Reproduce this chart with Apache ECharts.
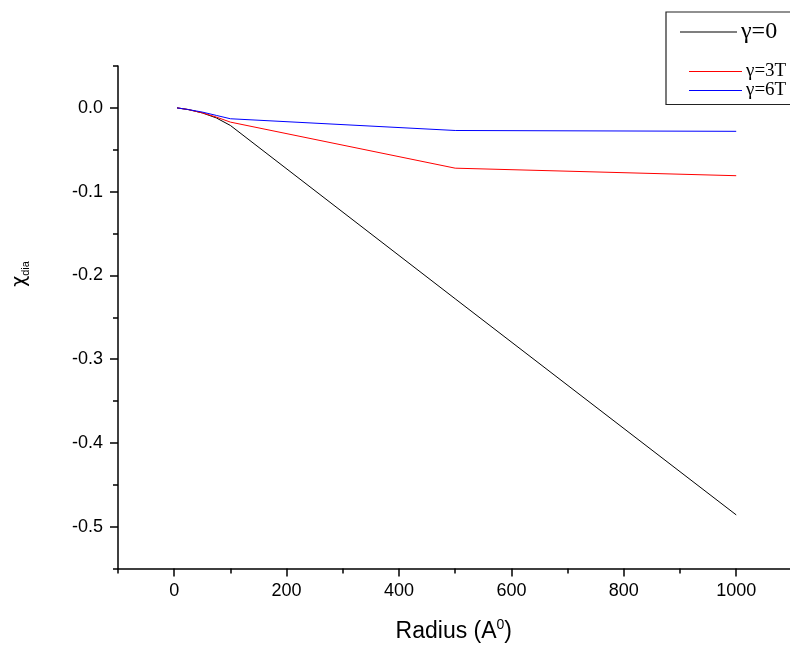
<!DOCTYPE html>
<html>
<head>
<meta charset="utf-8">
<script src="https://cdn.jsdelivr.net/npm/echarts@6/dist/echarts.min.js"></script>
<style>
html,body{margin:0;padding:0;background:#fff;}
#c{width:790px;height:648px;}
</style>
</head>
<body>
<div id="c"></div>
<script>
// Data
const radius = [5, 25, 50, 75, 100, 500, 1000];
const chiGamma0 = [0, -0.002, -0.006, -0.012, -0.021, -0.228, -0.486];
const chiGamma3T = [0, -0.002, -0.006, -0.011, -0.017, -0.072, -0.081];
const chiGamma6T = [0, -0.002, -0.005, -0.009, -0.013, -0.027, -0.028];
const seriesNames = ['γ=0', 'γ=3T', 'γ=6T'];
const xMajorTicks = [0, 200, 400, 600, 800, 1000];
const xMinorTicks = [-100, 100, 300, 500, 700, 900];
const yMajorTicks = [0, -0.1, -0.2, -0.3, -0.4, -0.5];
const yMinorTicks = [0.05, -0.05, -0.15, -0.25, -0.35, -0.45, -0.55];

const pairs = ys => radius.map((x, i) => [x, ys[i]]);
const chart = echarts.init(document.getElementById('c'), null, {renderer: 'canvas'});
const lab = {color: '#000', fontFamily: 'Liberation Sans, Arial', fontSize: 18};

const legendItem = (name, top, left, w, fs) => ({
  data: [name], orient: 'vertical', left: left, top: top, padding: 0, z: 20, zlevel: 0,
  icon: 'rect', itemWidth: w, itemHeight: 1.2, itemGap: 0,
  textStyle: {color: '#000', fontFamily: 'Liberation Serif, Times New Roman', fontSize: fs, padding: [0,0,0,-1]},
  selectedMode: false
});

chart.setOption({
  animation: false,
  backgroundColor: '#fff',
  grid: {left: 118, top: 66, width: 671.6, height: 504, containLabel: false},
  xAxis: [{
    type: 'value', min: -100, max: 1095, position: 'bottom',
    axisLine: {show: true, onZero: false, lineStyle: {color: '#000', width: 1.5}},
    axisTick: {show: true, inside: false, length: 8, lineStyle: {color: '#000', width: 1.5}, customValues: xMajorTicks},
    axisLabel: {show: true, margin: 14, customValues: xMajorTicks, formatter: v => String(v), ...lab},
    splitLine: {show: false},
    name: '{a|Radius (A}{b|0}{a|)}', nameLocation: 'middle', nameGap: 50,
    nameTextStyle: {rich: {
      a: {fontFamily: 'Liberation Sans, Arial', fontSize: 23, color: '#000', lineHeight: 26},
      b: {fontFamily: 'Liberation Sans, Arial', fontSize: 14, color: '#000', verticalAlign: 'top', lineHeight: 26}
    }}
  }, {
    type: 'value', min: -100, max: 1095, position: 'bottom', gridIndex: 0,
    axisLine: {show: false, onZero: false},
    axisTick: {show: true, inside: false, length: 5, lineStyle: {color: '#000', width: 1.5}, customValues: xMinorTicks},
    axisLabel: {show: false}, splitLine: {show: false}
  }],
  yAxis: [{
    type: 'value', min: -0.55, max: 0.05, position: 'left',
    axisLine: {show: true, onZero: false, lineStyle: {color: '#000', width: 1.5}},
    axisTick: {show: true, inside: false, length: 8, lineStyle: {color: '#000', width: 1.5}, customValues: yMajorTicks},
    axisLabel: {show: true, margin: 15, customValues: yMajorTicks, formatter: v => (Math.abs(v) < 1e-9 ? 0 : v).toFixed(1), ...lab},
    splitLine: {show: false}
  }, {
    type: 'value', min: -0.55, max: 0.05, position: 'left', gridIndex: 0,
    axisLine: {show: false, onZero: false},
    axisTick: {show: true, inside: false, length: 5, lineStyle: {color: '#000', width: 1.5}, customValues: yMinorTicks},
    axisLabel: {show: false}, splitLine: {show: false}
  }],
  legend: [
    legendItem(seriesNames[0], 20, 680, 57, 24),
    legendItem(seriesNames[1], 62, 689, 53, 19),
    legendItem(seriesNames[2], 81, 689, 53, 19)
  ],
  graphic: [
    {type: 'rect', shape: {x: 666, y: 12, width: 140, height: 92.5}, style: {fill: '#fff', stroke: '#222', lineWidth: 1.2}, z: 1, zlevel: 0},
    {type: 'text', x: 20, y: 274, rotation: Math.PI / 2,
     style: {text: '{a|χ}{b|dia}', align: 'center', verticalAlign: 'middle',
       rich: {
         a: {fontFamily: 'DejaVu Sans, Liberation Sans', fontSize: 19, fill: '#000', lineHeight: 22},
         b: {fontFamily: 'Liberation Sans, Arial', fontSize: 11, fill: '#000', verticalAlign: 'bottom', lineHeight: 22}
       }}}
  ],
  series: [
    {name: seriesNames[0], type: 'line', data: pairs(chiGamma0), showSymbol: false, symbol: 'none', color: '#000', lineStyle: {color: '#000', width: 1}, xAxisIndex: 0, yAxisIndex: 0, z: 3},
    {name: seriesNames[1], type: 'line', data: pairs(chiGamma3T), showSymbol: false, symbol: 'none', color: '#ff0000', lineStyle: {color: '#ff0000', width: 1}, xAxisIndex: 0, yAxisIndex: 0, z: 3},
    {name: seriesNames[2], type: 'line', data: pairs(chiGamma6T), showSymbol: false, symbol: 'none', color: '#0000ff', lineStyle: {color: '#0000ff', width: 1}, xAxisIndex: 0, yAxisIndex: 0, z: 3}
  ]
});
</script>
</body>
</html>
